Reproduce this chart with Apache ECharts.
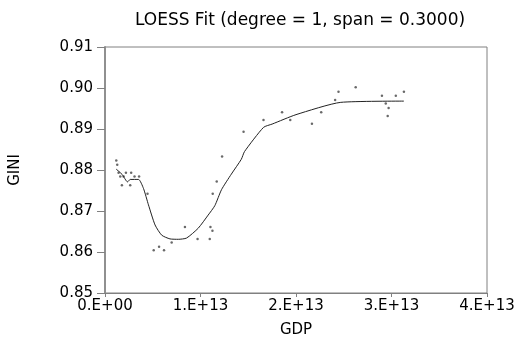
<!DOCTYPE html>
<html>
<head>
<meta charset="utf-8">
<script src="https://cdn.jsdelivr.net/npm/echarts@6/dist/echarts.min.js"></script>
<style>html,body{margin:0;padding:0;background:#fff;}#c{width:521px;height:356px;}</style>
</head>
<body>
<div id="c"></div>
<script>
// Observed data: GDP (in units of 1e13) and GINI
var gdpObs = [0.118,0.128,0.142,0.160,0.195,0.177,0.219,0.274,0.264,0.309,0.357,0.445,0.510,0.566,0.618,0.698,0.837,0.969,1.097,1.104,1.125,1.128,1.170,1.226,1.451,1.660,1.854,1.940,2.167,2.264,2.410,2.445,2.625,2.900,3.045,3.130,2.940,2.970,2.960];
var giniObs = [0.8823,0.8813,0.8793,0.8784,0.8784,0.8763,0.8793,0.8793,0.8763,0.8784,0.8784,0.8742,0.8604,0.8613,0.8604,0.8623,0.8661,0.8632,0.8632,0.8661,0.8652,0.8742,0.8772,0.8833,0.8893,0.8922,0.8941,0.8922,0.8913,0.8941,0.8971,0.8991,0.9002,0.8981,0.8981,0.8991,0.8962,0.8951,0.8932];
// LOESS fit line
var gdpFit = [0.118,0.180,0.236,0.264,0.351,0.403,0.455,0.524,0.594,0.680,0.768,0.854,0.976,1.080,1.150,1.220,1.323,1.427,1.461,1.660,1.750,2.000,2.469,3.130];
var giniFit = [0.8802,0.8789,0.8771,0.8777,0.8777,0.8755,0.8715,0.8666,0.8641,0.8632,0.8631,0.8634,0.8658,0.8690,0.8713,0.8752,0.8790,0.8826,0.8845,0.8904,0.8912,0.8935,0.8965,0.8968];
var xTickLabels = ['0.E+00','1.E+13','2.E+13','3.E+13','4.E+13'];

var UNIT = 1e13;
function pairs(xs, ys){ return xs.map(function(x,i){ return [x*UNIT, ys[i]]; }); }

var chart = echarts.init(document.getElementById('c'));
var font = 'DejaVu Sans';
chart.setOption({
  animation: false,
  backgroundColor: '#fff',
  title: {
    text: 'LOESS Fit (degree = 1, span = 0.3000)',
    left: 295, top: 7, textAlign: 'center',
    textStyle: {fontFamily: font, fontSize: 17, fontWeight: 'normal', color: '#000'}
  },
  grid: {left: 103, right: 34, top: 47, bottom: 63, show: true, borderColor: '#808080', borderWidth: 1},
  xAxis: {
    type: 'value', min: 0, max: 4*UNIT, interval: UNIT,
    name: 'GDP', nameLocation: 'middle', nameGap: 30,
    nameTextStyle: {fontFamily: font, fontSize: 15, color: '#000'},
    axisLine: {show: true, lineStyle: {color: '#808080', width: 1}},
    axisTick: {show: true, length: 4, lineStyle: {color: '#808080'}},
    axisLabel: {fontFamily: font, fontSize: 15, color: '#000', margin: 6,
      formatter: function(v){ return xTickLabels[Math.round(v/UNIT)]; }},
    splitLine: {show: false}
  },
  yAxis: {
    type: 'value', min: 0.85, max: 0.91, interval: 0.01,
    name: 'GINI', nameLocation: 'middle', nameGap: 82, nameRotate: 90,
    nameTextStyle: {fontFamily: font, fontSize: 15, color: '#000'},
    axisLine: {show: true, lineStyle: {color: '#909090', width: 2}},
    axisTick: {show: true, length: 8, lineStyle: {color: '#808080'}},
    axisLabel: {fontFamily: font, fontSize: 15, color: '#000', margin: 12,
      formatter: function(v){ return v.toFixed(2); }},
    splitLine: {show: false}
  },
  series: [
    {type: 'scatter', data: pairs(gdpObs, giniObs), symbol: 'circle', symbolSize: 2.5,
     itemStyle: {color: '#444'}, silent: true},
    {type: 'line', data: pairs(gdpFit, giniFit), smooth: 0.2, showSymbol: false,
     lineStyle: {color: '#222', width: 1}, silent: true}
  ]
});
</script>
</body>
</html>
